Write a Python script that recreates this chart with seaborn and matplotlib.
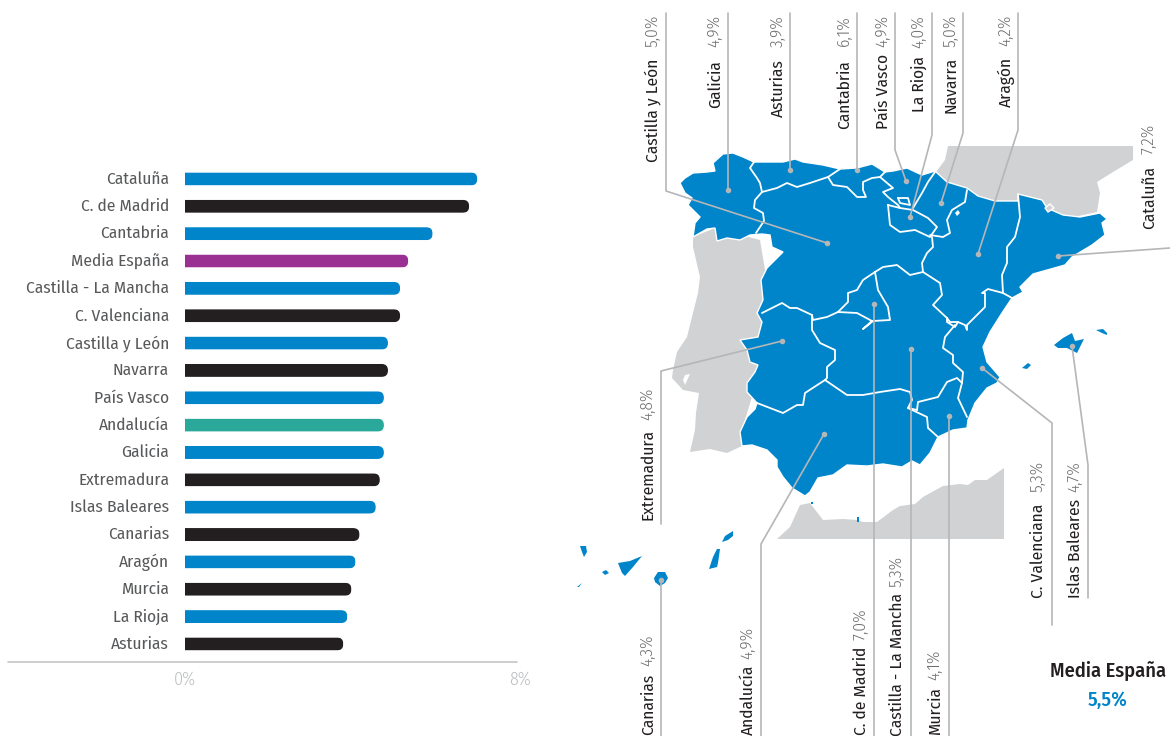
import matplotlib
matplotlib.use('Agg')

import matplotlib.font_manager as fm
import matplotlib.pyplot as plt
import pandas as pd
import seaborn as sns
from matplotlib.patches import FancyBboxPatch
from matplotlib.transforms import IdentityTransform, ScaledTranslation

# chart data
regions = ['Cataluña', 'C. de Madrid', 'Cantabria', 'Media España', 'Castilla - La Mancha',
           'C. Valenciana', 'Castilla y León', 'Navarra', 'País Vasco', 'Andalucía', 'Galicia',
           'Extremadura', 'Islas Baleares', 'Canarias', 'Aragón', 'Murcia', 'La Rioja', 'Asturias']
values = [7.2, 7.0, 6.1, 5.5, 5.3, 5.3, 5.0, 5.0, 4.9, 4.9, 4.9, 4.8, 4.7, 4.3, 4.2, 4.1, 4.0, 3.9]
bar_colors = ['#0085ca', '#231f20', '#0085ca', '#993092', '#0085ca', '#231f20', '#0085ca', '#231f20',
              '#0085ca', '#2aa899', '#0085ca', '#231f20', '#0085ca', '#231f20', '#0085ca', '#231f20',
              '#0085ca', '#231f20']
x_ticks = [0, 8]
x_tick_labels = ['0%', '8%']
value_text = {r: ('%.1f%%' % v).replace('.', ',') for r, v in zip(regions, values)}

# map outlines, traced in picture pixels
spain = [(680,183),(685,178),(693,173),(707,172),(715,171),(713,163),(723,154),(733,153),(743,157),(754,162),
         (770,162),(783,162),(795,159),(803,162),(823,165),(840,169),(857,168),(872,164),(885,172),(893,171),
         (907,168),(922,175),(935,171),(947,182),(967,188),(978,196),(995,201),(1018,201),(1018,194),(1042,200),
         (1047,208),(1063,215),(1080,217),(1100,213),(1107,219),(1102,223),(1105,235),(1092,245),(1072,257),
         (1065,265),(1033,274),(1020,287),(1023,292),(1012,298),(1002,313),(990,332),(983,347),(987,362),
         (1000,377),(997,383),(987,388),(975,403),(968,420),(967,428),(953,430),(938,437),(930,453),(920,465),
         (912,461),(902,467),(883,464),(867,466),(847,465),(833,475),(818,478),(810,492),(805,496),(792,488),
         (783,477),(777,467),(777,460),(767,450),(752,445),(742,446),(740,432),(747,417),(755,409),(757,403),
         (747,392),(747,383),(755,372),(758,365),(750,362),(747,350),(740,340),(758,337),(762,322),(757,313),
         (763,300),(761,280),(767,268),(783,252),(772,247),(770,235),(762,234),(750,235),(740,240),(727,238),
         (717,241),(715,228),(707,229),(693,237),(695,223),(700,217),(688,205),(692,198),(685,193)]
portugal = [(693,237),(715,228),(760,240),(770,300),(760,370),(745,420),(742,446),(727,453),(710,449),(690,452),
            (695,430),(696,413),(699,393),(683,390),(672,378),(673,370),(677,352),(687,337),(693,313),(698,293),
            (700,277),(693,247)]
france = [(936,172),(945,160),(948,146),(1133,146),(1133,160),(1113,172),(1097,182),(1100,193),(1097,212),
          (1060,220),(1000,210),(950,190)]
africa = [(1004,468),(1004,539),(777,539),(790,527),(800,505),(810,503),(823,520),(843,519),(857,520),(863,522),
          (877,522),(893,510),(900,506),(915,504),(923,497),(943,486),(960,484),(968,485),(975,480),(987,480)]
andorra = [(1045,208),(1050,204),(1054,208),(1048,212)]
estuary = [(685,375),(690,374),(685,385),(683,380)]
navarra_speck = [(955,213),(958,210),(960,213),(957,216)]
islands = [
    [(1054,345),(1063,338),(1072,333),(1075,341),(1084,339),(1077,353),(1067,348),(1058,348)],
    [(1096,330),(1103,329),(1107,333),(1107,335),(1102,333)],
    [(1022,368),(1028,363),(1031,365),(1027,369)],
    [(580,546),(586,546),(587,552),(584,557),(582,552)],
    [(618,563),(630,561),(642,556),(633,567),(625,576),(622,573)],
    [(602,572),(606,570),(609,573),(605,575)],
    [(577,587),(582,583),(579,587)],
    [(654,578),(658,572),(665,572),(668,578),(665,583),(660,586),(655,582)],
    [(717,549),(720,549),(718,563),(717,567),(709,569),(713,557)],
    [(722,542),(725,536),(733,531),(733,536),(728,540)],
    [(811,502),(813,502),(813,504),(811,504)],
    [(857,517),(859,517),(859,522),(857,522)],
]
borders = [
    [(754,162),(750,168),(757,178),(760,183),(762,192),(755,200),(754,208),(763,213),(764,221),(756,233)],
    [(762,192),(777,188),(787,183),(797,187),(810,183),(828,177),(840,169)],
    [(828,177),(833,185),(847,187),(857,197),(866,197),(863,190),(863,182),(872,178),(880,177),(885,172)],
    [(880,177),(893,188),(883,192),(888,197),(898,205),(900,208)],
    [(935,172),(928,182),(922,193),(913,208)],
    [(898,198),(908,198),(910,205),(900,203),(898,198)],
    [(888,205),(890,225),(900,232),(915,230),(930,237),(937,227),(928,218),(913,210),(900,208),(888,205)],
    [(967,190),(965,202),(952,210),(947,220),(950,233),(943,237),(930,235)],
    [(932,237),(933,247),(927,253),(922,263),(923,272),(910,275),(897,265),(883,267),(875,272)],
    [(875,272),(863,280),(857,290),(848,293),(848,302),(838,312)],
    [(875,272),(878,290),(888,307),(890,320),(873,321),(863,329),(872,321),(857,313),(838,312)],
    [(762,313),(782,303),(790,308),(797,308),(812,315),(813,320),(827,317),(838,312)],
    [(812,315),(812,330),(820,343),(835,350),(835,360),(827,367),(827,378),(825,380)],
    [(757,403),(770,408),(783,413),(797,405),(803,405),(805,393),(825,380),(847,395),(863,395),(880,392),
     (900,389),(910,392),(912,400),(908,408),(917,410)],
    [(908,408),(927,417),(928,428),(938,437)],
    [(917,410),(918,402),(938,397),(947,382),(957,378),(962,383),(958,398),(967,417)],
    [(962,383),(963,372),(953,363),(953,355),(943,348),(945,337),(955,325)],
    [(923,272),(940,283),(942,295),(933,305),(947,318),(950,322),(958,322),(955,327),(947,322),(947,318)],
    [(958,322),(965,325),(967,330),(967,325),(985,307),(985,293),(982,293),(988,289),(1003,293),(1012,298)],
    [(1018,194),(1020,217),(1015,237),(1007,247),(1007,263),(1002,275),(1003,293)],
]

# leader lines from the label down to the dot on the map
leaders = {
    'Castilla y León': [(666,13),(666,191),(827,243)],
    'Galicia': [(728,13),(728,190)],
    'Asturias': [(790,13),(790,170)],
    'Cantabria': [(857,13),(857,170)],
    'País Vasco': [(895,13),(895,150),(906,181)],
    'La Rioja': [(932,13),(932,135),(910,217)],
    'Navarra': [(963,13),(963,133),(941,203)],
    'Aragón': [(1018,13),(1018,130),(978,254)],
    'Cataluña': [(1170,248),(1058,256)],
    'Extremadura': [(661,524),(661,371),(782,341)],
    'Andalucía': [(761,736),(761,544),(824,434)],
    'C. de Madrid': [(874,736),(874,304)],
    'Castilla - La Mancha': [(911,736),(911,349)],
    'Murcia': [(949,736),(949,416)],
    'C. Valenciana': [(1052,625),(1052,423),(982,368)],
    'Islas Baleares': [(1088,598),(1088,465),(1072,346)],
    'Canarias': [(661,736),(661,580)],
}

# label x, bottom of the name, top of the value (picture pixels)
map_labels = {
    'Castilla y León': (653, 162, 15), 'Galicia': (715, 108, 15), 'Asturias': (778, 117, 15),
    'Cantabria': (844, 129, 15), 'País Vasco': (883, 129, 15), 'La Rioja': (919, 112, 15),
    'Navarra': (951, 113, 15), 'Aragón': (1006, 107, 15), 'Cataluña': (1149, 229, 124),
    'Extremadura': (648, 520, 388), 'Andalucía': (748, 735, 627), 'C. de Madrid': (861, 735, 608),
    'Castilla - La Mancha': (897, 736, 556), 'Murcia': (935, 735, 650), 'C. Valenciana': (1038, 598, 461),
    'Islas Baleares': (1075, 598, 461), 'Canarias': (648, 735, 634),
}

sns.set_style('white')
installed = set(f.name for f in fm.fontManager.ttflist)
fonts = [f for f in ['Fira Sans Condensed', 'IBM Plex Sans Condensed', 'Roboto Condensed', 'Lato'] if f in installed]
plt.rcParams['font.family'] = fonts + ['DejaVu Sans']

W, H = 1170, 736
fig = plt.figure(figsize=(W / 100, H / 100), dpi=100)

# overlay in picture pixels for the map
mp = fig.add_axes([0, 0, 1, 1])
mp.set_xlim(0, W)
mp.set_ylim(H, 0)
mp.axis('off')

for shape in [portugal, france, africa]:
    mp.fill(*zip(*shape), color='#d1d2d4', lw=0, zorder=1)
mp.fill(*zip(*estuary), color='white', lw=0, zorder=1.5)
mp.fill(*zip(*spain), facecolor='#0085ca', edgecolor='white', lw=1.0, zorder=2)
mp.fill(*zip(*andorra), facecolor='#d1d2d4', edgecolor='white', lw=1.0, zorder=3)
mp.fill(*zip(*navarra_speck), color='white', lw=0, zorder=3)
for shape in islands:
    mp.fill(*zip(*shape), color='#0085ca', lw=0, zorder=2)
for line in borders:
    mp.plot(*zip(*line), color='white', lw=1.3, zorder=3, solid_joinstyle='round')

for name, pts in leaders.items():
    mp.plot(*zip(*pts), color='#b5b6b8', lw=1.2, zorder=4)
    mp.plot(pts[-1][0], pts[-1][1], 'o', color='#b5b6b8', ms=4, mew=0, zorder=5)

for name, (x, y_name, y_val) in map_labels.items():
    mp.text(x, y_name, name, rotation=90, ha='center', va='bottom', fontsize=12.5, color='#231f20', zorder=6)
    mp.text(x, y_val, value_text[name], rotation=90, ha='center', va='top', fontsize=12.5, fontweight=300, color='#6d6e71', zorder=6)

mp.text(1108, 671, 'Media España', ha='center', va='center', fontsize=14.7, fontweight=500, color='#231f20')
mp.text(1108, 700, value_text['Media España'], ha='center', va='center', fontsize=14.7, fontweight=500, color='#0085ca')

# baseline of the bar chart runs further left than the plot area
mp.plot([8, 517], [662, 662], color='#c6c6c6', lw=1.2, zorder=1)

# bar chart
ax = fig.add_axes([185 / W, 1 - 662 / H, (517 - 185) / W, (662 - 165) / H])
ax.patch.set_alpha(0)
df = pd.DataFrame({'region': regions, 'value': values})
sns.barplot(data=df, x='value', y='region', hue='region', palette=bar_colors, legend=False,
            dodge=False, saturation=1, linewidth=0, ax=ax)
ax.set_xlim(0, 332 / 40.6)
ax.set_ylim(17.66, -0.51)
ax.set_xlabel('')
ax.set_ylabel('')
sns.despine(ax=ax, left=True, bottom=True)

# bars are 13px high, the right end is rounded off with a clip box in pixels
thick = 13 / 27.35
for container in ax.containers:
    for bar in container:
        mid = bar.get_y() + bar.get_height() / 2
        bar.set_y(mid - thick / 2)
        bar.set_height(thick)
        bar.set_snap(False)
        (x0, y0), (x1, y1) = ax.transData.transform([(0, mid + thick / 2), (bar.get_width(), mid - thick / 2)])
        clip = FancyBboxPatch((x0 - 20, y0), x1 - x0 + 20, y1 - y0, boxstyle='round,pad=0,rounding_size=6.5',
                              transform=IdentityTransform())
        bar.set_clip_path(clip)

ax.tick_params(axis='y', length=0, pad=11.5, labelsize=12.5)
for lab in ax.get_yticklabels():
    lab.set_color('#58595b')
    lab.set_transform(lab.get_transform() + ScaledTranslation(0, 1.5 / 100, fig.dpi_scale_trans))
ax.set_xticks(x_ticks)
ax.set_xticklabels(x_tick_labels)
ax.tick_params(axis='x', length=0, pad=6, labelsize=13, labelcolor='#bcbec0')
# the 8% label sits a little past its tick
lab = ax.get_xticklabels()[1]
lab.set_fontweight(300)
ax.get_xticklabels()[0].set_fontweight(300)
lab.set_transform(lab.get_transform() + ScaledTranslation(10 / 100, 0, fig.dpi_scale_trans))

fig.savefig('out.png', dpi=100)
